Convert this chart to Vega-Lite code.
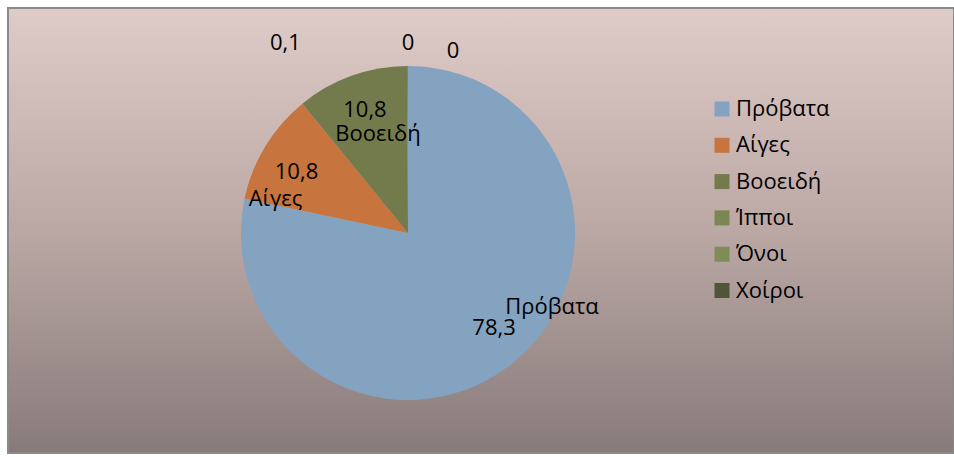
{
  "$schema": "https://vega.github.io/schema/vega-lite/v6.json",
  "width": 946,
  "height": 445,
  "padding": {"left": 7, "top": 7, "right": 1, "bottom": 5},
  "background": "white",
  "config": {
    "view": {"stroke": null},
    "locale": {"number": {"decimal": ",", "thousands": ".", "grouping": [3], "currency": ["", " €"]}},
    "font": "Open Sans"
  },
  "datasets": {
    "livestock": [
      {"i": 1, "cat": "Πρόβατα", "value": 78.3},
      {"i": 2, "cat": "Αίγες", "value": 10.8},
      {"i": 3, "cat": "Βοοειδή", "value": 10.8},
      {"i": 4, "cat": "Ίπποι", "value": 0.1},
      {"i": 5, "cat": "Όνοι", "value": 0},
      {"i": 6, "cat": "Χοίροι", "value": 0}
    ]
  },
  "layer": [
    {
      "data": {"values": [{"bg": 1}]},
      "mark": {
        "type": "rect",
        "stroke": "#8a8a8a",
        "strokeWidth": 2,
        "fill": {
          "gradient": "linear", "x1": 0, "y1": 0, "x2": 0, "y2": 1,
          "stops": [
            {"offset": 0, "color": "#dfcbc7"},
            {"offset": 0.5, "color": "#bba8a5"},
            {"offset": 1, "color": "#877b7a"}
          ]
        }
      },
      "encoding": {}
    },
    {
      "data": {"name": "livestock"},
      "mark": {"type": "arc", "outerRadius": 167, "x": 400, "y": 225},
      "encoding": {
        "theta": {"field": "value", "type": "quantitative", "stack": true},
        "order": {"field": "i", "type": "quantitative"},
        "color": {
          "field": "cat", "type": "nominal",
          "scale": {
            "domain": ["Πρόβατα", "Αίγες", "Βοοειδή", "Ίπποι", "Όνοι", "Χοίροι"],
            "range": ["#83a3c1", "#c8743f", "#737b4d", "#7a8753", "#7f8c57", "#4f5536"]
          },
          "legend": {
            "title": null,
            "orient": "none",
            "legendX": 703,
            "legendY": 90,
            "symbolType": "square",
            "symbolSize": 225,
            "symbolStrokeWidth": 0,
            "labelFontSize": 22,
            "labelFont": "Open Sans",
            "labelColor": "black",
            "labelOffset": 3,
            "rowPadding": 14.3,
            "padding": 0
          }
        }
      }
    },
    {
      "data": {"name": "livestock"},
      "mark": {
        "type": "text", "x": 400, "y": 225, "fontSize": 22, "color": "black",
        "baseline": "middle", "align": "center",
        "radius": {"expr": "datum.value < 1 ? 186 : 127"},
        "dx": {"expr": "datum.cat == 'Ίπποι' ? -122 : datum.cat == 'Χοίροι' ? 45 : datum.cat == 'Πρόβατα' ? 6 : datum.cat == 'Αίγες' ? -3 : 0"},
        "dy": {"expr": "datum.cat == 'Χοίροι' ? 4 : datum.cat == 'Πρόβατα' ? -4 : datum.cat == 'Αίγες' ? 5 : -4"}
      },
      "encoding": {
        "theta": {"field": "value", "type": "quantitative", "stack": true},
        "order": {"field": "i", "type": "quantitative"},
        "text": {"field": "value", "type": "quantitative", "format": ".1~f"}
      }
    },
    {
      "data": {"name": "livestock"},
      "mark": {
        "type": "text", "x": 400, "y": 225, "fontSize": 22, "color": "black",
        "baseline": "middle", "align": "center", "radius": 127,
        "dx": {"expr": "datum.cat == 'Πρόβατα' ? 64 : datum.cat == 'Αίγες' ? -24 : 13"},
        "dy": {"expr": "datum.cat == 'Πρόβατα' ? -25 : datum.cat == 'Αίγες' ? 32 : 20"}
      },
      "encoding": {
        "theta": {"field": "value", "type": "quantitative", "stack": true},
        "order": {"field": "i", "type": "quantitative"},
        "text": {"condition": {"test": "datum.value < 1", "value": ""}, "field": "cat", "type": "nominal"}
      }
    }
  ]
}
